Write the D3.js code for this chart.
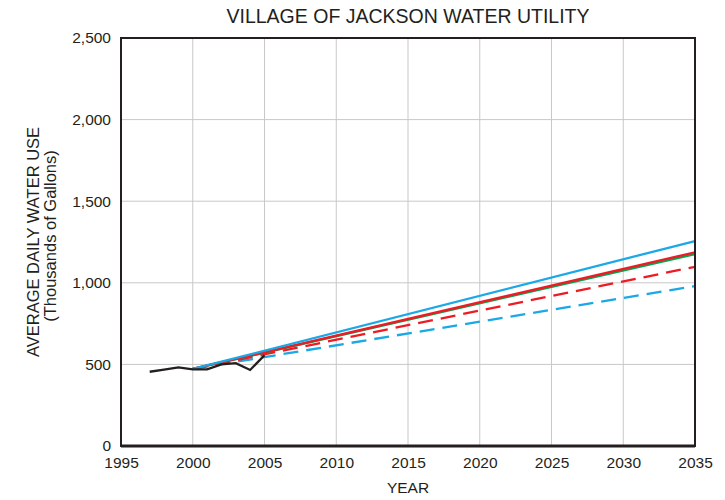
<!DOCTYPE html>
<html><head><meta charset="utf-8">
<script src="https://cdn.jsdelivr.net/npm/d3@7"></script>
<style>
body{margin:0;background:#fff;}
text{font-family:"Liberation Sans",Arial,sans-serif;fill:#231f20;}
</style></head>
<body><svg id="c" width="725" height="500"></svg>
<script>
const historicalYears = [1997, 1998, 1999, 2000, 2001, 2002, 2003, 2004, 2005];
const historicalValues = [455, 468, 482, 470, 470, 500, 508, 466, 556];
const projectionYears = [2000, 2035];
const blueSolid = [472, 1256];
const redSolid = [472, 1187];
const greenSolid = [472, 1176];
const redDashed = [472, 1098];
const blueDashed = [472, 980];
const xTicks = [1995, 2000, 2005, 2010, 2015, 2020, 2025, 2030, 2035];
const yTicks = [0, 500, 1000, 1500, 2000, 2500];

const svg = d3.select("#c");
const m = {l:121, r:695, t:38, b:446};
const x = d3.scaleLinear().domain([1995, 2035]).range([m.l, m.r]);
const y = d3.scaleLinear().domain([0, 2500]).range([m.b, m.t]);

// gridlines
svg.append("g").selectAll("line").data(xTicks.slice(1, -1)).enter().append("line")
  .attr("x1", d => x(d)).attr("x2", d => x(d)).attr("y1", m.t).attr("y2", m.b)
  .attr("stroke", "#c8c8c8").attr("stroke-width", 1);
svg.append("g").selectAll("line").data(yTicks.slice(1, -1)).enter().append("line")
  .attr("x1", m.l).attr("x2", m.r).attr("y1", d => y(d)).attr("y2", d => y(d))
  .attr("stroke", "#c8c8c8").attr("stroke-width", 1);

const line = d3.line().x(d => x(d[0])).y(d => y(d[1]));
const series = [
  {v: blueDashed, c: "#1aa9e6", dash: "15,8"},
  {v: redDashed, c: "#ed1c24", dash: "15,8"},
  {v: greenSolid, c: "#00a651", dash: null},
  {v: redSolid, c: "#ed1c24", dash: null},
  {v: blueSolid, c: "#1aa9e6", dash: null}
];
series.forEach(s => {
  svg.append("path").datum(projectionYears.map((yr, i) => [yr, s.v[i]]))
    .attr("d", line).attr("fill", "none").attr("stroke", s.c).attr("stroke-width", 2.3)
    .attr("stroke-dasharray", s.dash);
});
svg.append("path").datum(historicalYears.map((yr, i) => [yr, historicalValues[i]]))
  .attr("d", line).attr("fill", "none").attr("stroke", "#231f20").attr("stroke-width", 2.3);

// frame
svg.append("rect").attr("x", m.l).attr("y", m.t).attr("width", m.r - m.l).attr("height", m.b - m.t)
  .attr("fill", "none").attr("stroke", "#231f20").attr("stroke-width", 2);
svg.append("line").attr("x1", m.l).attr("x2", m.r).attr("y1", m.b).attr("y2", m.b)
  .attr("stroke", "#231f20").attr("stroke-width", 3);

// axes
const xAxis = svg.append("g").attr("transform", `translate(0,${m.b})`)
  .call(d3.axisBottom(x).tickValues(xTicks).tickFormat(d3.format("d")).tickSize(0).tickPadding(11));
xAxis.select(".domain").remove();
xAxis.selectAll("text").attr("font-size", 15.5).style("fill", "#231f20");

const yAxis = svg.append("g").attr("transform", `translate(${m.l},0)`)
  .call(d3.axisLeft(y).tickValues(yTicks).tickFormat(d3.format(",")).tickSize(0).tickPadding(10));
yAxis.select(".domain").remove();
yAxis.selectAll("text").attr("font-size", 15.5).style("fill", "#231f20");

svg.append("text").attr("x", (m.l + m.r) / 2).attr("y", 23).attr("text-anchor", "middle")
  .attr("font-size", 19.5).text("VILLAGE OF JACKSON WATER UTILITY");
svg.append("text").attr("x", (m.l + m.r) / 2).attr("y", 493).attr("text-anchor", "middle")
  .attr("font-size", 15.5).text("YEAR");
svg.append("text").attr("transform", "translate(39,242) rotate(-90)").attr("text-anchor", "middle")
  .attr("font-size", 16.5).text("AVERAGE DAILY WATER USE");
svg.append("text").attr("transform", "translate(56,236) rotate(-90)").attr("text-anchor", "middle")
  .attr("font-size", 16.5).text("(Thousands of Gallons)");
</script></body></html>
